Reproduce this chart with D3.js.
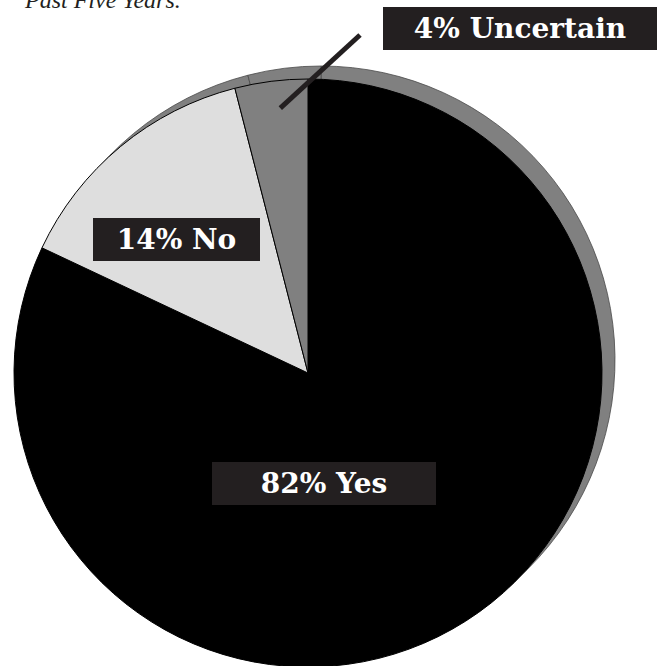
<!DOCTYPE html>
<html>
<head>
<meta charset="utf-8">
<script src="https://cdn.jsdelivr.net/npm/d3@7"></script>
<style>
  body { margin: 0; background: #fff; }
  svg { display: block; }
</style>
</head>
<body>
<div id="canvas"></div>
<script>
// answers, in drawing order (clockwise from 12 o'clock)
var answers = ["Yes", "No", "Uncertain"];
var shares = [82, 14, 4];
var labels = ["82% Yes", "14% No", "4% Uncertain"];
var fills = ["#000000", "#dedede", "#808080"];

var titleText = "Past Five Years.";

// label boxes (x, y of the top left corner, width)
var boxes = [
  { x: 212, y: 462, w: 224 },
  { x: 93, y: 218, w: 167 },
  { x: 383, y: 7, w: 274 }
];

function drawChart() {
  var width = 660, height = 666;
  var cx = 308, cy = 373, radius = 294;
  var depthX = 13, depthY = -13;

  var svg = d3.select("#canvas").append("svg")
    .attr("width", width)
    .attr("height", height);

  // cut-off title line at the top
  svg.append("text")
    .attr("x", 25)
    .attr("y", 8)
    .style("font-family", "'Liberation Serif', serif")
    .style("font-style", "italic")
    .style("font-size", "24px")
    .style("fill", "#231f20")
    .text(titleText);

  var data = answers.map((a, i) => ({ answer: a, value: shares[i], label: labels[i], fill: fills[i], box: boxes[i] }));

  var pie = d3.pie().sort(null).value(d => d.value);
  var arcs = pie(data);
  var arc = d3.arc().innerRadius(0).outerRadius(radius);

  // the side of the disc, shown as a gray copy pushed up and right
  svg.append("g")
    .attr("transform", `translate(${cx + depthX},${cy + depthY})`)
    .selectAll("path.side")
    .data(arcs)
    .enter()
    .append("path")
    .attr("class", "side")
    .attr("d", arc)
    .style("fill", "#808080")
    .style("stroke", "#4a4a4a")
    .style("stroke-width", 0.8);

  // top face
  svg.append("g")
    .attr("transform", `translate(${cx},${cy})`)
    .selectAll("path.slice")
    .data(arcs)
    .enter()
    .append("path")
    .attr("class", "slice")
    .attr("d", arc)
    .style("fill", d => d.data.fill)
    .style("stroke", "#000")
    .style("stroke-width", 1);

  // leader line from the small slice to its label
  var small = arcs[2];
  var mid = (small.startAngle + small.endAngle) / 2;
  var r0 = radius * 0.915;
  svg.append("line")
    .attr("x1", cx + Math.sin(mid) * r0 + 6)
    .attr("y1", cy - Math.cos(mid) * r0 + 2)
    .attr("x2", 360)
    .attr("y2", 35)
    .style("stroke", "#231f20")
    .style("stroke-width", 5);

  // labels: white bold text on dark boxes
  var lab = svg.selectAll("g.label")
    .data(arcs)
    .enter()
    .append("g")
    .attr("class", "label")
    .attr("transform", d => `translate(${d.data.box.x},${d.data.box.y})`);
  lab.append("rect")
    .attr("width", d => d.data.box.w)
    .attr("height", 43)
    .style("fill", "#231f20");
  lab.append("text")
    .attr("x", d => d.data.box.w / 2)
    .attr("y", 31)
    .style("text-anchor", "middle")
    .style("font-family", "'DejaVu Serif', serif")
    .style("font-weight", "bold")
    .style("font-size", "28px")
    .style("fill", "#fff")
    .text(d => d.data.label);
}

drawChart();
</script>
</body>
</html>
